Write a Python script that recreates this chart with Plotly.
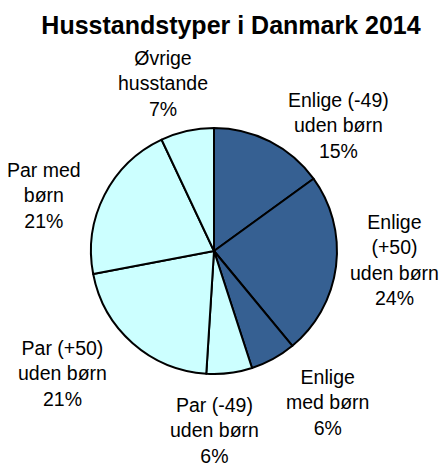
import math
import plotly.graph_objects as go

categories = ["Enlige (-49)<br>uden børn", "Enlige<br>(+50)<br>uden børn", "Enlige<br>med børn",
              "Par (-49)<br>uden børn", "Par (+50)<br>uden børn", "Par med<br>børn", "Øvrige<br>husstande"]
values = [15, 24, 6, 6, 21, 21, 7]
colors = ["#366092", "#366092", "#366092", "#CCFFFF", "#CCFFFF", "#CCFFFF", "#CCFFFF"]

# label placement style (angle nudge in degrees, distance as multiple of radius)
label_nudge = [17.8, -4.2, -8, 7.2, 9.6, -9, -4.4]
label_dist = [1.44, 1.47, 1.54, 1.46, 1.58, 1.45, 1.42]

# page has an 8px body margin, so the figure is drawn 8px smaller and shifted
OFF = 8
W, H = 447 - OFF, 463 - OFF
CX, CY, R = 214 - OFF, 251 - OFF, 123
FONT = "Liberation Sans, Arial"

fig = go.Figure(go.Pie(
    labels=categories, values=values, sort=False, direction="clockwise", rotation=0,
    marker=dict(colors=colors, line=dict(color="black", width=2)),
    textinfo="none",
    domain=dict(x=[(CX - R) / W, (CX + R) / W], y=[(H - CY - R) / H, (H - CY + R) / H]),
    showlegend=False, hoverinfo="skip",
))

total = sum(values)
cum = 0
for lab, v, nud, dist in zip(categories, values, label_nudge, label_dist):
    mid = (cum + v / 2) / total * 360 + nud
    cum += v
    px = CX + dist * R * math.sin(math.radians(mid))
    py = CY - dist * R * math.cos(math.radians(mid))
    fig.add_annotation(x=px / W, y=1 - py / H, xref="paper", yref="paper",
                       text=f"{lab}<br>{round(v / total * 100)}%", showarrow=False,
                       xanchor="center", yanchor="middle", align="center",
                       font=dict(family=FONT, size=19.5, color="black"))

fig.update_layout(
    width=W, height=H, margin=dict(l=0, r=0, t=0, b=0),
    paper_bgcolor="white", plot_bgcolor="white",
    title=dict(text="<b>Husstandstyper i Danmark 2014</b>", x=(231 - OFF) / W, xanchor="center",
               y=1 - (25 - OFF) / H, yanchor="middle",
               font=dict(family=FONT, size=25, color="black")),
)
fig.write_html("out.html")
